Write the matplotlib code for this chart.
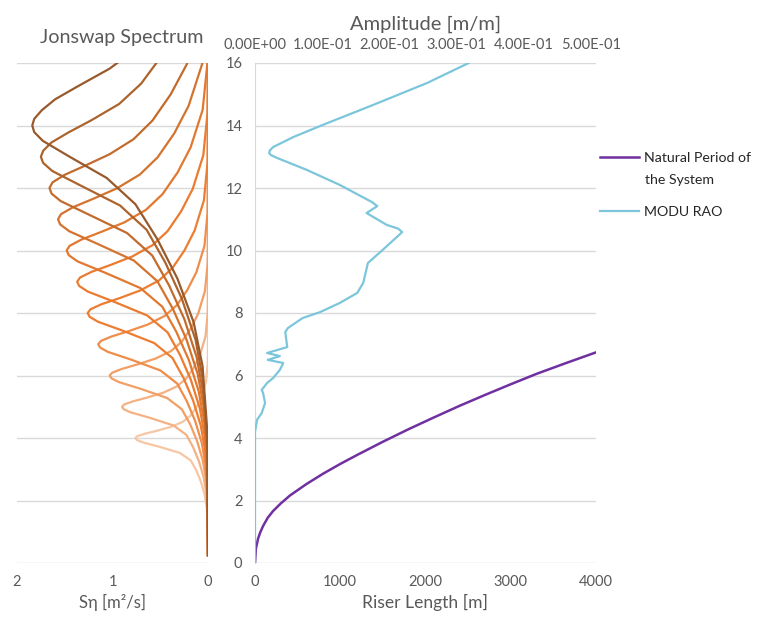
import matplotlib
matplotlib.use('Agg')
import matplotlib.pyplot as plt

plt.rcParams['font.family'] = ['Lato', 'DejaVu Sans']

GRID = '#d9d9d9'
TXT = '#595959'

# Jonswap spectra: period T [s] and S [m2/s], one list per peak period
jonswap_T = {
    4: [0.25, 1.2, 1.8, 2.2, 2.6, 2.96, 3.28, 3.52, 3.72, 3.86, 3.94, 4.0, 4.06, 4.14, 4.24, 4.36, 4.52, 4.72, 5.0, 5.32, 5.8, 6.4, 7.2, 16.5],
    5: [0.25, 1.5, 2.25, 2.75, 3.25, 3.7, 4.1, 4.4, 4.65, 4.825, 4.925, 5.0, 5.075, 5.175, 5.3, 5.45, 5.65, 5.9, 6.25, 6.65, 7.25, 8.0, 9.0, 16.5],
    6: [0.25, 1.8, 2.7, 3.3, 3.9, 4.44, 4.92, 5.28, 5.58, 5.79, 5.91, 6.0, 6.09, 6.21, 6.36, 6.54, 6.78, 7.08, 7.5, 7.98, 8.7, 9.6, 10.8, 16.5],
    7: [0.25, 2.1, 3.15, 3.85, 4.55, 5.18, 5.74, 6.16, 6.51, 6.755, 6.895, 7.0, 7.105, 7.245, 7.42, 7.63, 7.91, 8.26, 8.75, 9.31, 10.15, 11.2, 12.6, 16.5],
    8: [0.25, 2.4, 3.6, 4.4, 5.2, 5.92, 6.56, 7.04, 7.44, 7.72, 7.88, 8.0, 8.12, 8.28, 8.48, 8.72, 9.04, 9.44, 10.0, 10.64, 11.6, 12.8, 14.4, 16.5],
    9: [0.25, 2.7, 4.05, 4.95, 5.85, 6.66, 7.38, 7.92, 8.37, 8.685, 8.865, 9.0, 9.135, 9.315, 9.54, 9.81, 10.17, 10.62, 11.25, 11.97, 13.05, 14.4, 16.2],
    10: [0.25, 3.0, 4.5, 5.5, 6.5, 7.4, 8.2, 8.8, 9.3, 9.65, 9.85, 10.0, 10.15, 10.35, 10.6, 10.9, 11.3, 11.8, 12.5, 13.3, 14.5, 16.0, 18.0],
    11: [0.25, 3.3, 4.95, 6.05, 7.15, 8.14, 9.02, 9.68, 10.23, 10.615, 10.835, 11.0, 11.165, 11.385, 11.66, 11.99, 12.43, 12.98, 13.75, 14.63, 15.95, 17.6],
    12: [0.25, 3.6, 5.4, 6.6, 7.8, 8.88, 9.84, 10.56, 11.16, 11.58, 11.82, 12.0, 12.18, 12.42, 12.72, 13.08, 13.56, 14.16, 15.0, 15.96, 17.4],
    13: [0.25, 3.9, 5.85, 7.15, 8.45, 9.62, 10.66, 11.44, 12.09, 12.545, 12.805, 13.0, 13.195, 13.455, 13.78, 14.17, 14.69, 15.34, 16.25],
    14: [0.25, 4.2, 6.3, 7.7, 9.1, 10.36, 11.48, 12.32, 13.02, 13.51, 13.79, 14.0, 14.21, 14.49, 14.84, 15.26, 15.82, 16.52],
}
jonswap_S = {
    4: [0.0, 0.002, 0.014, 0.036, 0.074, 0.122, 0.180, 0.293, 0.509, 0.684, 0.746, 0.76, 0.739, 0.658, 0.525, 0.385, 0.263, 0.182, 0.119, 0.067, 0.021, 0.002, 0.0, 0.0],
    5: [0.0, 0.003, 0.018, 0.046, 0.094, 0.155, 0.226, 0.361, 0.613, 0.814, 0.884, 0.90, 0.876, 0.784, 0.631, 0.468, 0.326, 0.229, 0.149, 0.085, 0.026, 0.003, 0.0, 0.0],
    6: [0.0, 0.003, 0.022, 0.056, 0.114, 0.187, 0.274, 0.428, 0.712, 0.934, 1.011, 1.03, 1.003, 0.902, 0.733, 0.551, 0.388, 0.275, 0.181, 0.103, 0.032, 0.003, 0.0, 0.0],
    7: [0.0, 0.003, 0.026, 0.066, 0.135, 0.222, 0.322, 0.497, 0.807, 1.048, 1.130, 1.15, 1.121, 1.013, 0.830, 0.631, 0.452, 0.323, 0.214, 0.121, 0.037, 0.005, 0.0, 0.0],
    8: [0.0, 0.004, 0.030, 0.076, 0.156, 0.256, 0.372, 0.564, 0.898, 1.152, 1.240, 1.26, 1.230, 1.116, 0.922, 0.711, 0.514, 0.372, 0.247, 0.140, 0.043, 0.005, 0.0, 0.0],
    9: [0.0, 0.005, 0.034, 0.086, 0.178, 0.293, 0.423, 0.636, 0.992, 1.258, 1.349, 1.37, 1.340, 1.221, 1.018, 0.792, 0.581, 0.423, 0.282, 0.160, 0.049, 0.005, 0.0],
    10: [0.0, 0.005, 0.038, 0.098, 0.201, 0.332, 0.478, 0.709, 1.086, 1.365, 1.458, 1.48, 1.449, 1.325, 1.114, 0.876, 0.650, 0.477, 0.318, 0.182, 0.056, 0.006, 0.0],
    11: [0.0, 0.006, 0.042, 0.108, 0.225, 0.369, 0.531, 0.777, 1.170, 1.452, 1.548, 1.57, 1.539, 1.413, 1.198, 0.953, 0.714, 0.528, 0.353, 0.203, 0.063, 0.006],
    12: [0.0, 0.006, 0.048, 0.120, 0.247, 0.407, 0.584, 0.848, 1.255, 1.542, 1.638, 1.66, 1.628, 1.502, 1.283, 1.031, 0.780, 0.581, 0.390, 0.222, 0.068],
    13: [0.0, 0.007, 0.053, 0.131, 0.273, 0.448, 0.642, 0.921, 1.341, 1.631, 1.727, 1.75, 1.725, 1.64, 1.46, 1.22, 0.93, 0.70, 0.48],
    14: [0.0, 0.007, 0.057, 0.15, 0.32, 0.53, 0.76, 1.06, 1.46, 1.73, 1.82, 1.84, 1.82, 1.74, 1.60, 1.36, 1.03, 0.72],
}
jonswap_colors = ['#f7c6a3', '#f4b183', '#f29f66', '#ef8d4a', '#ed7d31', '#ea7b30',
                  '#e2782f', '#d4732e', '#c26b2d', '#ad632c', '#985a2c']

# natural period of the system vs riser length
riser_L = [0, 10, 35, 60, 94, 150, 211, 300, 410, 600, 800, 1000, 1200, 1500, 1800, 2100,
           2400, 2700, 3000, 3300, 3650, 4000]
riser_T = [0, 0.45, 0.77, 0.97, 1.18, 1.45, 1.66, 1.9, 2.16, 2.52, 2.86, 3.17, 3.46, 3.88,
           4.28, 4.66, 5.03, 5.38, 5.72, 6.05, 6.40, 6.74]

# MODU RAO amplitude [m/m] vs period [s]
rao_T = [0, 3.62, 4.19, 4.32, 4.58, 4.8, 5.12, 5.44, 5.54, 5.76, 5.92, 6.18, 6.4, 6.5, 6.62,
         6.72, 6.91, 7.39, 7.52, 7.84, 8.03, 8.32, 8.64, 8.96, 9.6, 10.02, 10.45, 10.59, 10.7,
         10.82, 11.2, 11.42, 11.55, 12.1, 12.58, 12.96, 13.05, 13.12, 13.2, 13.31, 13.63, 14.02,
         14.66, 15.36, 16.0]
rao_A = [0, 0, 0, 0.001, 0.003, 0.010, 0.015, 0.012, 0.010, 0.018, 0.027, 0.037, 0.042, 0.019,
         0.037, 0.018, 0.048, 0.045, 0.049, 0.071, 0.097, 0.126, 0.152, 0.161, 0.168, 0.190,
         0.212, 0.219, 0.213, 0.196, 0.166, 0.182, 0.174, 0.126, 0.077, 0.033, 0.024, 0.021,
         0.022, 0.027, 0.057, 0.101, 0.176, 0.256, 0.318]

fig = plt.figure(figsize=(7.61, 6.21), dpi=100)
W, H = 761, 621
ax1 = fig.add_axes([17 / W, 58 / H, 191 / W, 500 / H])
ax2 = fig.add_axes([255 / W, 58 / H, 341 / W, 500 / H])

# left: spectra
for tp, col in zip(jonswap_T, jonswap_colors):
    ax1.plot(jonswap_S[tp], jonswap_T[tp], color=col, lw=1.6, solid_joinstyle='round')
ax1.set_xlim(2, 0)
ax1.set_ylim(0, 16)
ax1.set_xticks([2, 1, 0])
ax1.set_yticks(range(0, 17, 2))
ax1.set_yticklabels([])
ax1.grid(axis='y', color=GRID, lw=1)
ax1.tick_params(length=0, labelsize=10.5, labelcolor=TXT, pad=9)
for s in ax1.spines.values():
    s.set_visible(False)
ax1.set_xlabel('Sη [m²/s]', fontsize=12, color=TXT, labelpad=3)
fig.text(122 / W, 1 - 37 / H, 'Jonswap Spectrum', fontsize=14.2, color=TXT,
         ha='center', va='center')

# right: natural period + RAO
ax2.plot(riser_L, riser_T, color='#7030a0', lw=1.8, label='Natural Period of', zorder=3)
ax2.set_xlim(0, 4000)
ax2.set_ylim(0, 16)
ax2.set_xticks(range(0, 4001, 1000))
ax2.set_yticks(range(0, 17, 2))
ax2.grid(axis='y', color=GRID, lw=1)
ax2.tick_params(length=0, labelsize=10.5, labelcolor=TXT, pad=9)
for k, s in ax2.spines.items():
    s.set_visible(k == 'left')
ax2.spines['left'].set_color(GRID)
ax2.set_xlabel('Riser Length [m]', fontsize=12.6, color=TXT, labelpad=3)

ax3 = ax2.twiny()
ax3.plot(rao_A, rao_T, color='#7cc6dc', lw=1.6, label='MODU RAO')
ax3.set_xlim(0, 0.5074)
amp_ticks = [0, 0.1, 0.2, 0.3, 0.4, 0.5]
ax3.set_xticks(amp_ticks)
ax3.set_xticklabels(['{:.2E}'.format(v) for v in amp_ticks])
ax3.tick_params(length=0, labelsize=10.5, labelcolor=TXT, pad=8)
for s in ax3.spines.values():
    s.set_visible(False)
ax3.set_xlabel('Amplitude [m/m]', fontsize=14.5, color=TXT, labelpad=6)

h1, l1 = ax2.get_legend_handles_labels()
h2, l2 = ax3.get_legend_handles_labels()
fig.legend(h1 + h2, l1 + l2, loc='upper left', bbox_to_anchor=(587 / W, 1 - 139 / H),
           frameon=False, fontsize=10.2, handlelength=2.8, labelspacing=2.95,
           handletextpad=0.35, labelcolor='#262626')
fig.text(645 / W, 1 - 180 / H, 'the System', fontsize=10.2, color='#262626',
         ha='left', va='center')

fig.savefig('out.png', dpi=100)
